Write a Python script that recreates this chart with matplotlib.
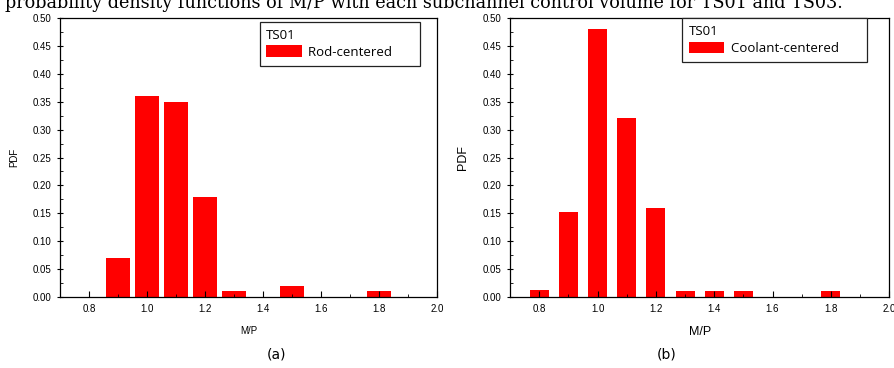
import matplotlib.pyplot as plt
from matplotlib.patches import Patch
from matplotlib.ticker import MultipleLocator

# M/P bins and PDF values
mp_rod = [0.9, 1.0, 1.1, 1.2, 1.3, 1.5, 1.8]
pdf_rod = [0.07, 0.36, 0.35, 0.18, 0.01, 0.02, 0.01]

mp_cool = [0.8, 0.9, 1.0, 1.1, 1.2, 1.3, 1.4, 1.5, 1.8]
pdf_cool = [0.012, 0.152, 0.48, 0.32, 0.16, 0.01, 0.01, 0.01, 0.01]

caption = "probability density functions of M/P with each subchannel control volume for TS01 and TS03."
legend_title = "TS01"

fig = plt.figure(figsize=(8.95, 3.68), dpi=100)
ax1 = fig.add_axes([0.067, 0.193, 0.421, 0.758])
ax2 = fig.add_axes([0.570, 0.193, 0.4235, 0.758])


def style_axes(ax, label, label_size, legend_x, legend_y):
    ax.set_xlim(0.7, 2.0)
    ax.set_ylim(0, 0.5)
    ax.xaxis.set_minor_locator(MultipleLocator(0.1))
    ax.yaxis.set_major_locator(MultipleLocator(0.05))
    ax.yaxis.set_minor_locator(MultipleLocator(0.025))
    ax.set_xticks([0.8, 1.0, 1.2, 1.4, 1.6, 1.8, 2.0])
    ax.tick_params(axis='x', which='major', direction='in', length=4, labelsize=7, pad=5)
    ax.tick_params(axis='x', which='minor', direction='in', length=2)
    ax.tick_params(axis='y', which='major', direction='inout', length=5, labelsize=7)
    ax.tick_params(axis='y', which='minor', direction='in', length=2)
    for lab in ax.get_xticklabels() + ax.get_yticklabels():
        lab.set_family('Liberation Sans')
    for sp in ax.spines.values():
        sp.set_linewidth(0.9)
    ax.set_xlabel('M/P', fontsize=label_size, family='Liberation Sans', labelpad=9)
    ax.set_ylabel('PDF', fontsize=label_size, family='Liberation Sans', labelpad=10)
    # trailing spaces pad the frame on the right like the original legend box
    leg = ax.legend(handles=[Patch(facecolor='#ff0000', label=label + '      ')],
                    title=legend_title,
                    loc='upper left', bbox_to_anchor=(legend_x, legend_y),
                    alignment='left', fancybox=False, framealpha=1, edgecolor='#222222',
                    handlelength=2.7, handleheight=1.0, handletextpad=0.5,
                    borderpad=0.5, borderaxespad=0, labelspacing=0.3,
                    prop={'family': 'Open Sans', 'size': 9.5},
                    title_fontproperties={'family': 'Open Sans', 'size': 9.5})
    leg.get_frame().set_linewidth(0.9)


ax1.bar(mp_rod, pdf_rod, width=0.083, color='#ff0000')
style_axes(ax1, 'Rod-centered', 7, 0.53, 0.986)

ax2.bar(mp_cool, pdf_cool, width=0.065, color='#ff0000')
style_axes(ax2, 'Coolant-centered', 9, 0.454, 1.0)

fig.text(0.006, 1 - 8 / 368, caption, family='DejaVu Serif', fontsize=12.7, va='baseline')
fig.text(276 / 895, 1 - 354 / 368, '(a)', family=['Liberation Sans Narrow', 'DejaVu Sans'],
         fontsize=10, ha='center', va='center')
fig.text(667 / 895, 1 - 354 / 368, '(b)', family=['Liberation Sans Narrow', 'DejaVu Sans'],
         fontsize=10, ha='center', va='center')

fig.savefig('out.png', dpi=100)
